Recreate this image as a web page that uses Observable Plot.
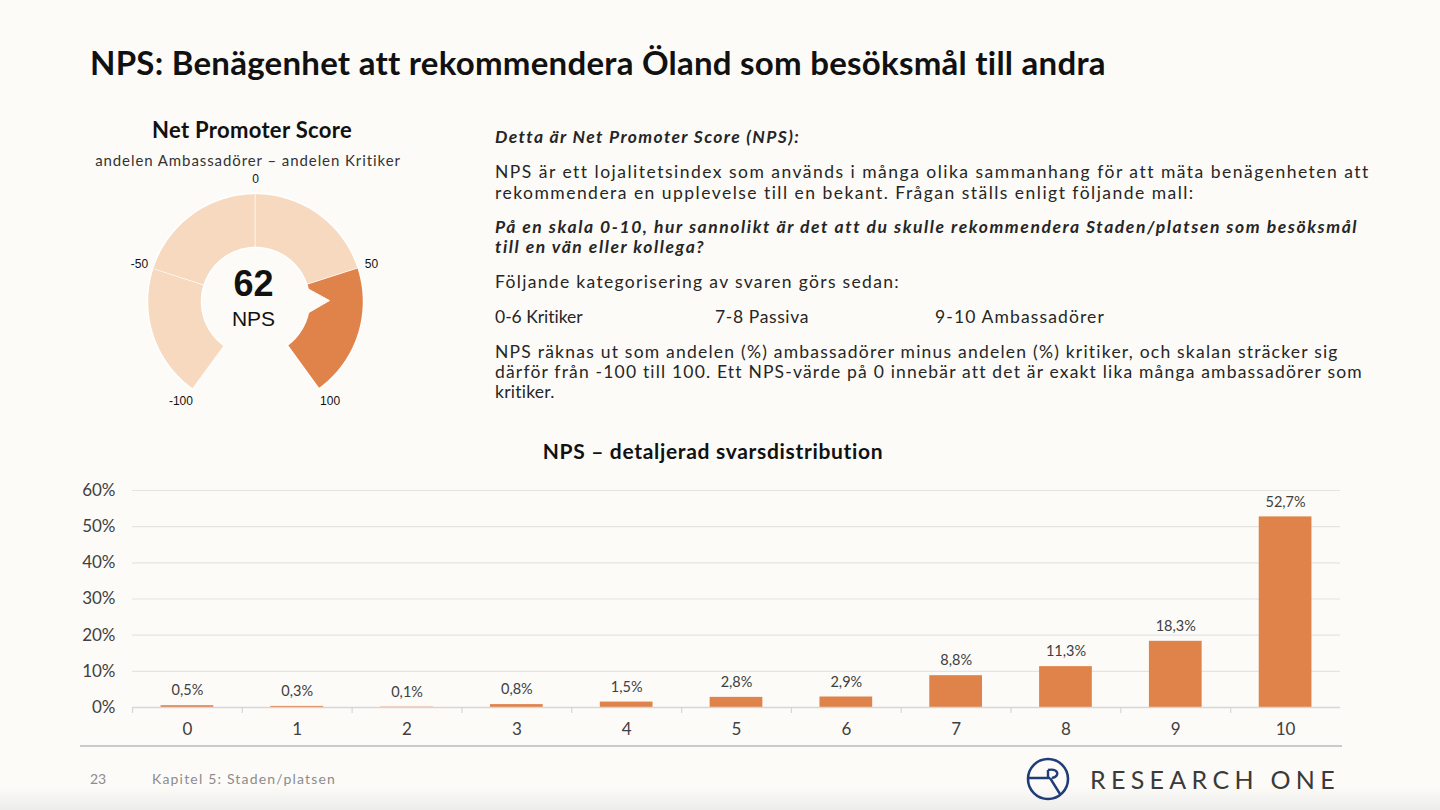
<!DOCTYPE html>
<html>
<head>
<meta charset="utf-8">
<script src="https://cdn.jsdelivr.net/npm/d3@7"></script>
<script src="https://cdn.jsdelivr.net/npm/@observablehq/plot@0.6"></script>
<style>
html,body{margin:0;padding:0;}
body{width:1440px;height:810px;background:#fcfbf8;position:relative;overflow:hidden;font-family:Lato,"Open Sans",sans-serif;color:#262626;}
.abs{position:absolute;white-space:nowrap;}
#title{left:90px;top:43px;font-size:33px;font-weight:700;color:#111;line-height:38px;}
#gtitle{top:117px;font-size:22px;font-weight:700;color:#111;line-height:26px;}
#gsub{top:151px;font-size:15px;color:#333;line-height:18px;}
.body{font-size:17.5px;line-height:20px;left:495px;color:#262626;}
.bi{font-weight:700;font-style:italic;}
#btitle{top:438px;font-size:21px;font-weight:700;color:#111;line-height:26px;}
#sep{left:80px;top:745px;width:1262px;height:2px;background:#cacaca;}
#pg{left:90px;top:770px;font-size:14px;color:#8c8c8c;line-height:18px;}
#chap{left:152px;top:770px;font-size:14px;color:#8c8c8c;line-height:18px;}
#logo{left:1025px;top:756px;}
#logotext{left:1090px;top:764px;font-size:25px;color:#3a3a3a;line-height:30px;}
#fade{left:0;top:786px;width:1440px;height:24px;background:linear-gradient(#fcfbf8,#ededeb);}
#gauge{left:105px;top:151px;}
#bars{left:60px;top:470px;}
</style>
</head>
<body>
<div id="fade" class="abs"></div>
<div id="title" class="abs fit" data-w="1015">NPS: Benägenhet att rekommendera Öland som besöksmål till andra</div>
<div id="gtitle" class="abs fit" data-w="200" data-cx="252">Net Promoter Score</div>
<div id="gsub" class="abs fit" data-w="306" data-cx="248">andelen Ambassadörer – andelen Kritiker</div>
<div id="gauge" class="abs"></div>

<div class="abs body bi fit" data-w="304" style="top:127px">Detta är Net Promoter Score (NPS):</div>
<div class="abs body fit" data-w="873" style="top:162px">NPS är ett lojalitetsindex som används i många olika sammanhang för att mäta benägenheten att</div>
<div class="abs body fit" data-w="700" style="top:183px">rekommendera en upplevelse till en bekant. Frågan ställs enligt följande mall:</div>
<div class="abs body bi fit" data-w="862" style="top:217px">På en skala 0-10, hur sannolikt är det att du skulle rekommendera Staden/platsen som besöksmål</div>
<div class="abs body bi fit" data-w="210" style="top:237px">till en vän eller kollega?</div>
<div class="abs body fit" data-w="405" style="top:272px">Följande kategorisering av svaren görs sedan:</div>
<div class="abs body fit" data-w="88" style="top:307px">0-6 Kritiker</div>
<div class="abs body fit" data-w="94" style="top:307px;left:715px">7-8 Passiva</div>
<div class="abs body fit" data-w="170" style="top:307px;left:935px">9-10 Ambassadörer</div>
<div class="abs body fit" data-w="844" style="top:342px">NPS räknas ut som andelen (%) ambassadörer minus andelen (%) kritiker, och skalan sträcker sig</div>
<div class="abs body fit" data-w="867" style="top:362px">därför från -100 till 100. Ett NPS-värde på 0 innebär att det är exakt lika många ambassadörer som</div>
<div class="abs body fit" data-w="60" style="top:382px">kritiker.</div>

<div id="btitle" class="abs fit" data-w="341" data-cx="713">NPS – detaljerad svarsdistribution</div>
<div id="bars" class="abs"></div>

<div id="sep" class="abs"></div>
<div id="pg" class="abs">23</div>
<div id="chap" class="abs fit" data-w="184">Kapitel 5: Staden/platsen</div>
<svg id="logo" class="abs" width="48" height="48" viewBox="0 0 48 48">
  <circle cx="23" cy="23" r="20" fill="none" stroke="#1f3d78" stroke-width="2.6"/>
  <path d="M3.5 22 H25 M23 14 V22 M23 14 C33 12 36 20 27 22 M25 22 L35 38" fill="none" stroke="#1f3d78" stroke-width="2.4" stroke-linejoin="round"/>
</svg>
<div id="logotext" class="abs fit" data-w="250">RESEARCH ONE</div>

<script>
// ---------- data ----------
const categories = ["0","1","2","3","4","5","6","7","8","9","10"];
const shares = [0.5, 0.3, 0.1, 0.8, 1.5, 2.8, 2.9, 8.8, 11.3, 18.3, 52.7];
const yTicks = [0, 10, 20, 30, 40, 50, 60];

const npsValue = 62;
const npsLabel = "NPS";
const gaugeBounds = [-100, -50, 0, 50, 100];
const gaugeTickLabels = ["-100", "-50", "0", "50", "100"];

// ---------- colours ----------
const DARK = "#e0834a";
const LIGHT = "#f6d9bf";
const BG = "#fcfbf8";

// ---------- fit HTML text lines to the reference widths ----------
document.querySelectorAll(".fit").forEach(el => {
  const target = +el.dataset.w;
  el.style.letterSpacing = "0px";
  const w = el.getBoundingClientRect().width;
  const n = el.textContent.length;
  el.style.letterSpacing = ((target - w) / n).toFixed(3) + "px";
  if (el.dataset.cx) {
    const w2 = el.getBoundingClientRect().width;
    el.style.left = (+el.dataset.cx - w2 / 2) + "px";
  }
});

// ---------- gauge ----------
const angle = d3.scaleLinear().domain([-100, 100]).range([-0.8 * Math.PI, 0.8 * Math.PI]);
const R_OUT = 108, R_IN = 54;
const labelRadius = v => 122 + 6 * Math.max(0, -Math.cos(angle(v)));

function ringPoints(v0, v1) {
  const n = 48, pts = [];
  for (let i = 0; i <= n; i++) { const a = angle(v0 + (v1 - v0) * i / n); pts.push({x: R_OUT * Math.sin(a), y: R_OUT * Math.cos(a)}); }
  for (let i = n; i >= 0; i--) { const a = angle(v0 + (v1 - v0) * i / n); pts.push({x: R_IN * Math.sin(a), y: R_IN * Math.cos(a)}); }
  return pts;
}
const segments = d3.pairs(gaugeBounds).map(([a, b]) => ({from: a, to: b, active: npsValue >= a && npsValue <= b}));

const aV = angle(npsValue);
const pointer = [
  {x: 50 * Math.sin(aV - 0.3), y: 50 * Math.cos(aV - 0.3)},
  {x: 74 * Math.sin(aV), y: 74 * Math.cos(aV)},
  {x: 50 * Math.sin(aV + 0.3), y: 50 * Math.cos(aV + 0.3)}
];

const gauge = Plot.plot({
  width: 300, height: 300, margin: 0,
  x: {domain: [-150, 150], axis: null},
  y: {domain: [-150, 150], axis: null},
  style: {background: "transparent", fontFamily: "Liberation Sans, Arial, sans-serif"},
  marks: [
    ...segments.map(s => Plot.line(ringPoints(s.from, s.to), {x: "x", y: "y", fill: s.active ? DARK : LIGHT, stroke: "#ffffff", strokeWidth: 1.5, curve: "linear"})),
    Plot.line(pointer, {x: "x", y: "y", fill: BG, stroke: BG, strokeWidth: 1}),
    Plot.text(gaugeBounds, {
      x: v => labelRadius(v) * Math.sin(angle(v)),
      y: v => labelRadius(v) * Math.cos(angle(v)) + 4 * Math.max(0, -Math.cos(angle(v))),
      text: (v, i) => gaugeTickLabels[i],
      fontSize: 12, fill: "#111"
    }),
    Plot.text([npsValue], {frameAnchor: "middle", dx: -2, dy: -17, text: d => String(d), fontSize: 36, fontWeight: "bold", fill: "#111"}),
    Plot.text([npsLabel], {frameAnchor: "middle", dx: -2, dy: 18, text: d => d, fontSize: 21, fill: "#111"})
  ]
});
document.getElementById("gauge").appendChild(gauge);

// ---------- bar chart ----------
const chartData = categories.map((c, i) => ({cat: c, value: shares[i]}));
const W = 1300, ML = 72, MR = 20;
const step = (W - ML - MR) / categories.length;
const fmt = v => v.toFixed(1).replace(".", ",") + "%";

const bars = Plot.plot({
  width: W, height: 275, marginLeft: ML, marginRight: MR, marginTop: 20, marginBottom: 38,
  style: {background: "transparent", fontFamily: "Lato, sans-serif", fontSize: "17px", color: "#404040"},
  x: {domain: categories, paddingInner: 0.52, paddingOuter: 0.26, round: false, label: null, tickSize: 0, tickPadding: 15},
  y: {domain: [0, 60], ticks: yTicks, tickFormat: d => d + "%", label: null, tickSize: 0, tickPadding: 17},
  marks: [
    Plot.ruleY(yTicks.filter(t => t > 0), {stroke: "#e4e4e2", strokeWidth: 1.2}),
    Plot.barY(chartData, {x: "cat", y: "value", fill: DARK}),
    Plot.ruleY([0], {stroke: "#d6d6d6", strokeWidth: 1.5}),
    Plot.ruleX(categories, {x: d => d, dx: -step / 2, y1: 0, y2: 0, insetBottom: -6, stroke: "#d6d6d6", strokeWidth: 1.2}),
    Plot.text(chartData, {x: "cat", y: "value", text: d => fmt(d.value), dy: -15, fontSize: 14.5, fill: "#404040"})
  ]
});
document.getElementById("bars").appendChild(bars);
</script>
</body>
</html>
